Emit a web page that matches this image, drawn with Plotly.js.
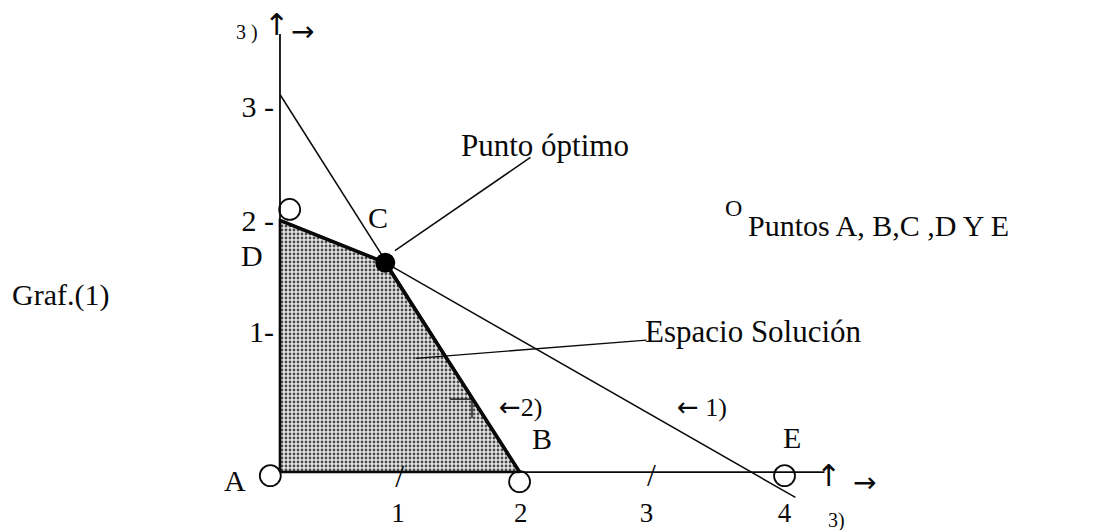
<!DOCTYPE html>
<html>
<head>
<meta charset="utf-8">
<script src="https://cdn.plot.ly/plotly-3.0.1.min.js"></script>
<style>
html,body{margin:0;padding:0;background:#fff;}
#graf{width:1114px;height:530px;}
</style>
</head>
<body>
<div id="graf"></div>
<script>
// espacio solucion A,B,C,D (units)
let region_x = [0, 1.98, 0.87, 0, 0];
let region_y = [0, 0, 1.73, 2.08, 0];

// restricciones 1) y 2)
let r1_x = [0, 0.87, 4.26];
let r1_y = [2.08, 1.73, -0.21];
let r2_x = [0, 1.98];
let r2_y = [3.12, 0];

// punto optimo C
let opt_x = [0.87];
let opt_y = [1.73];

// open circles at A, D, B, E
let circle_x = [-0.08, 0.08, 1.98, 4.17];
let circle_y = [-0.03, 2.17, -0.08, -0.03];

// point labels
let pt_names = ['A', 'B', 'C', 'D', 'E'];
let pt_x = [0, 1.98, 0.87, 0, 4.17];
let pt_y = [0, 0, 1.73, 2.08, 0];

// axes
let axis_x_end = 4.5;
let axis_y_end = 3.62;
let x_tick_vals = [0.975, 1.99, 3.03, 4.17];
let x_tick_text = ['1', '2', '3', '4'];
let y_tick_vals = [1.16, 2.08, 3.02];
let y_tick_text = ['1-', '2 -', '3 -'];
let slash_x = [0.99, 3.07];
let slash_y = [-0.06, -0.05];

// leader lines and small mark
let punto_x = [0.95, 2.07];
let punto_y = [1.83, 2.60];
let espacio_x = [1.12, 1.38, 3.03];
let espacio_y = [0.94, 0.96, 1.09];
let mark_x = [1.405, 1.587, 1.587];
let mark_y = [0.603, 0.603, 0.446];

const serif = 'Liberation Serif, Times New Roman, serif';
const ink = '#0a0a0a';
let arrow = (a) => '<span style="font-family:DejaVu Sans">' + a + '</span>';

let thin = (x, y, w) => ({
  type: 'scatter', mode: 'lines', x: x, y: y,
  line: {color: ink, width: w}, hoverinfo: 'skip', showlegend: false
});

let traces = [
  {
    type: 'scatter', mode: 'lines', x: region_x, y: region_y,
    fill: 'toself', fillcolor: '#c8c8c8',
    fillpattern: {shape: '.', bgcolor: '#e6e6e6', fgcolor: '#4a4a4a', size: 4, solidity: 0.4},
    line: {color: ink, width: 2.6}, hoverinfo: 'skip', showlegend: false
  },
  thin([0, 0], [0, axis_y_end], 1.8),
  thin([0, axis_x_end], [0, 0], 1.8),
  thin(r1_x, r1_y, 1.5),
  thin(r2_x, r2_y, 1.5),
  thin(region_x.slice(1, 4), region_y.slice(1, 4), 3.6),
  thin(punto_x, punto_y, 1.5),
  thin(espacio_x, espacio_y, 1.3),
  thin(mark_x, mark_y, 1.3),
  {
    type: 'scatter', mode: 'markers', x: circle_x, y: circle_y, cliponaxis: false,
    marker: {symbol: 'circle-open', size: 21, color: ink, line: {width: 1.8}},
    hoverinfo: 'skip', showlegend: false
  },
  {
    type: 'scatter', mode: 'markers', x: opt_x, y: opt_y,
    marker: {symbol: 'circle', size: 20, color: '#000'},
    hoverinfo: 'skip', showlegend: false
  },
  {
    type: 'scatter', mode: 'text', x: slash_x, y: slash_y, text: slash_x.map(() => '/'),
    textfont: {family: serif, size: 32, color: ink}, cliponaxis: false,
    hoverinfo: 'skip', showlegend: false
  }
];

// label offsets next to each point (px)
let pt_shift = [[-45, -8], [22, 34], [-7, 45], [-28, -35], [7, 35]];
let annotations = pt_names.map((n, i) => ({
  x: pt_x[i], y: pt_y[i], text: n, showarrow: false,
  xshift: pt_shift[i][0], yshift: pt_shift[i][1],
  font: {family: serif, size: 30, color: ink}
}));

let txt = (text, x, y, size) => ({
  x: x, y: y, text: text, showarrow: false,
  font: {family: serif, size: size, color: ink}
});

annotations.push(
  txt('Graf.(1)', -1.81, 1.46, 30),
  txt('Punto óptimo', 2.19, 2.70, 31),
  txt('Espacio Solución', 3.91, 1.16, 31),
  txt(arrow('←') + '2)', 1.99, 0.54, 26),
  txt(arrow('←') + ' 1)', 3.49, 0.54, 26),
  txt('3 )', -0.27, 3.63, 20),
  txt(arrow('↑'), -0.025, 3.70, 30),
  txt(arrow('→'), 0.19, 3.64, 28),
  txt(arrow('↑'), 4.53, -0.03, 30),
  txt(arrow('→'), 4.83, -0.09, 28),
  txt('3)', 4.60, -0.40, 20),
  txt('O', 3.75, 2.18, 24),
  {x: 3.85, y: 2.04, text: 'Puntos A, B,C ,D Y E', showarrow: false, xanchor: 'left',
   font: {family: serif, size: 30, color: ink}}
);

let layout = {
  width: 1114, height: 530,
  margin: {l: 0, r: 0, t: 0, b: 0},
  paper_bgcolor: '#fff', plot_bgcolor: '#fff',
  showlegend: false,
  xaxis: {
    range: [-2.314, 6.893], anchor: 'free', position: 0.1094,
    tickvals: x_tick_vals, ticktext: x_tick_text, ticks: '',
    ticklabelstandoff: 22,
    tickfont: {family: serif, size: 27, color: ink},
    showgrid: false, zeroline: false, showline: false, fixedrange: true
  },
  yaxis: {
    range: [-0.479, 3.901], anchor: 'free', position: 0.2513,
    tickvals: y_tick_vals, ticktext: y_tick_text, ticks: '',
    ticklabelstandoff: 6,
    tickfont: {family: serif, size: 30, color: ink},
    showgrid: false, zeroline: false, showline: false, fixedrange: true
  },
  annotations: annotations
};

Plotly.newPlot('graf', traces, layout, {staticPlot: true, displayModeBar: false});
</script>
</body>
</html>
